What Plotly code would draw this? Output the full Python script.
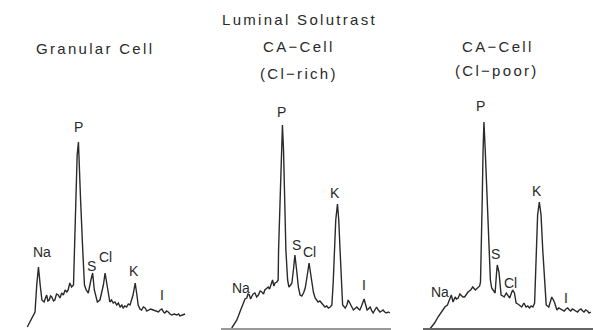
import plotly.graph_objects as go

# ---- spectrum data (energy keV, intensity a.u.) ----
granular_keV = [0.83, 0.93, 1.01, 1.05, 1.09, 1.13, 1.17, 1.22, 1.25, 1.28,
                1.31, 1.34, 1.37, 1.40, 1.44, 1.47, 1.51, 1.55, 1.59, 1.63,
                1.67, 1.71, 1.75, 1.78, 1.82, 1.86, 1.905, 1.93, 1.96, 1.99,
                2.02, 2.04, 2.07, 2.12, 2.16, 2.20, 2.25, 2.31, 2.35, 2.39,
                2.46, 2.52, 2.60, 2.64, 2.68, 2.71, 2.75, 2.79, 2.83, 2.87,
                2.91, 2.95, 2.99, 3.03, 3.06, 3.10, 3.14, 3.18, 3.22, 3.29,
                3.34, 3.38, 3.41, 3.45, 3.49, 3.53, 3.57, 3.61, 3.65, 3.70,
                3.76, 3.82, 3.88, 3.92, 3.96, 4.00, 4.03, 4.07, 4.11, 4.15,
                4.19, 4.25, 4.31, 4.35, 4.38, 4.44, 4.50]
granular_cnt = [3, 12, 18, 45, 63, 45, 30, 28, 33, 35,
                29, 30, 34, 33, 29, 30, 36, 35, 32, 37,
                35, 40, 38, 40, 47, 43, 45, 80, 130, 175,
                188, 170, 130, 80, 45, 40, 37, 50, 57, 40,
                28, 30, 45, 57, 45, 40, 28, 30, 27, 28,
                25, 27, 23, 25, 22, 24, 23, 26, 25, 35,
                47, 35, 25, 21, 20, 23, 22, 19, 20, 21,
                20, 19, 18, 20, 21, 18, 17, 19, 18, 16,
                15, 16, 15, 16, 14, 15, 16]

clrich_keV = [0.84, 0.96, 1.03, 1.11, 1.15, 1.19, 1.22, 1.25, 1.28, 1.30,
              1.34, 1.38, 1.42, 1.46, 1.50, 1.54, 1.58, 1.61, 1.65, 1.69,
              1.72, 1.75, 1.79, 1.82, 1.85, 1.89, 1.92, 1.93, 1.96, 1.99,
              2.02, 2.045, 2.08, 2.10, 2.14, 2.17, 2.21, 2.24, 2.28, 2.31,
              2.35, 2.39, 2.43, 2.47, 2.51, 2.55, 2.58, 2.61, 2.64, 2.67,
              2.70, 2.74, 2.78, 2.81, 2.85, 2.89, 2.93, 2.97, 3.01, 3.05,
              3.09, 3.13, 3.17, 3.20, 3.23, 3.26, 3.30, 3.33, 3.36, 3.38,
              3.42, 3.48, 3.52, 3.55, 3.58, 3.61, 3.67, 3.71, 3.75, 3.79,
              3.82, 3.86, 3.92, 3.95, 3.99, 4.02, 4.06, 4.10, 4.13, 4.17,
              4.21, 4.25, 4.29, 4.33, 4.36, 4.40, 4.44, 4.48, 4.52]
clrich_cnt = [2, 10, 18, 28, 31, 32, 36, 35, 31, 33,
              36, 37, 33, 35, 39, 38, 36, 40, 42, 43,
              41, 45, 50, 44, 47, 48, 50, 80, 130, 180,
              205, 180, 130, 80, 50, 43, 45, 47, 62, 75,
              60, 43, 35, 34, 37, 42, 50, 60, 67, 58,
              47, 38, 32, 30, 28, 29, 27, 25, 23, 24,
              22, 23, 25, 47, 80, 110, 126, 110, 80, 60,
              25, 22, 25, 30, 27, 25, 20, 22, 23, 21,
              20, 24, 31, 26, 20, 21, 23, 19, 17, 20,
              23, 20, 18, 19, 20, 18, 17, 18, 17]

clpoor_keV = [0.75, 0.86, 0.94, 1.02, 1.06, 1.10, 1.16, 1.21, 1.25, 1.29,
              1.34, 1.37, 1.41, 1.45, 1.48, 1.52, 1.56, 1.60, 1.64, 1.70,
              1.75, 1.81, 1.87, 1.91, 1.93, 1.94, 1.97, 1.99, 2.01, 2.04,
              2.09, 2.13, 2.16, 2.19, 2.22, 2.27, 2.30, 2.32, 2.36, 2.38,
              2.41, 2.45, 2.48, 2.53, 2.57, 2.61, 2.65, 2.68, 2.72, 2.76,
              2.80, 2.84, 2.89, 2.94, 2.99, 3.03, 3.07, 3.11, 3.15, 3.19,
              3.21, 3.23, 3.26, 3.30, 3.34, 3.38, 3.42, 3.46, 3.52, 3.56,
              3.59, 3.65, 3.71, 3.75, 3.79, 3.84, 3.88, 3.92, 3.96, 4.00,
              4.03, 4.07, 4.11, 4.15, 4.19, 4.23, 4.27, 4.31, 4.34, 4.38,
              4.42, 4.46, 4.50]
clpoor_cnt = [1, 7, 13, 18, 21, 23, 25, 30, 35, 28,
              33, 31, 32, 36, 35, 33, 33, 36, 38, 40,
              43, 40, 42, 44, 48, 80, 130, 180, 208, 180,
              130, 80, 50, 42, 40, 37, 55, 65, 58, 45,
              35, 34, 33, 37, 34, 32, 37, 40, 37, 27,
              26, 25, 23, 27, 23, 24, 22, 24, 23, 27,
              47, 80, 115, 128, 115, 80, 47, 25, 23, 28,
              33, 28, 20, 22, 21, 20, 19, 21, 22, 20,
              19, 21, 20, 19, 18, 20, 21, 19, 18, 20,
              19, 17, 18]

# peak labels: (text, energy, height)
granular_labels = [("Na", 1.17, 78), ("P", 2.03, 203), ("S", 2.33, 64),
                   ("Cl", 2.66, 73), ("K", 3.31, 59), ("I", 3.96, 35)]
clrich_labels = [("Na", 1.05, 42), ("P", 1.99, 218), ("S", 2.34, 85),
                 ("Cl", 2.66, 78), ("K", 3.24, 137), ("I", 3.92, 45)]
clpoor_labels = [("Na", 0.98, 38), ("P", 1.94, 224), ("S", 2.27, 76),
                 ("Cl", 2.64, 47), ("K", 3.24, 139), ("I", 3.91, 32)]

panels = [
    (granular_keV, granular_cnt, granular_labels),
    (clrich_keV, clrich_cnt, clrich_labels),
    (clpoor_keV, clpoor_cnt, clpoor_labels),
]

W, H = 593, 330
xdomains = [[17.4 / W, 187.2 / W], [221.4 / W, 391.2 / W], [423.4 / W, 1.0]]
xranges = [[0.6, 4.55], [0.6, 4.55], [0.6, 4.55]]
show_baseline = [False, True, True]
baseline_color = ["#888", "#999", "#666"]

FONT = "Liberation Sans, Arial, sans-serif"
fig = go.Figure()
annotations = []
layout = {}
for i, (ex, cy, labels) in enumerate(panels):
    n = "" if i == 0 else str(i + 1)
    fig.add_trace(go.Scatter(x=ex, y=cy, mode="lines",
                             line=dict(color="#2a2a2a", width=1.4),
                             xaxis="x" + n, yaxis="y" + n, showlegend=False,
                             hoverinfo="skip"))
    layout["xaxis" + n] = dict(domain=xdomains[i], range=xranges[i],
                               showgrid=False, zeroline=False, showticklabels=False,
                               ticks="", showline=show_baseline[i],
                               linecolor=baseline_color[i], linewidth=2,
                               anchor="free", position=0.004)
    layout["yaxis" + n] = dict(domain=[0, 1], range=[0, H], visible=False,
                               anchor="x" + n)
    for (t, ex_, hy) in labels:
        annotations.append(dict(text=t, x=ex_, y=hy, xref="x" + n, yref="y" + n,
                                showarrow=False, xanchor="center", yanchor="middle",
                                font=dict(family=FONT, size=14, color="#2a2a2a")))

titles = [("Luminal Solutrast", 299, 19), ("Granular Cell", 95, 48),
          ("CA\u2212Cell", 299, 46), ("(Cl\u2212rich)", 299, 73),
          ("CA\u2212Cell", 498, 46), ("(Cl\u2212poor)", 497, 71)]
for (t, px, py) in titles:
    annotations.append(dict(text='<span style="letter-spacing:2.3px">' + t + '</span>',
                            x=px / W, y=1 - py / H, xref="paper", yref="paper",
                            showarrow=False, xanchor="center", yanchor="middle",
                            font=dict(family=FONT, size=15, color="#2a2a2a")))

fig.update_layout(width=W, height=H, margin=dict(l=0, r=0, t=0, b=0),
                  paper_bgcolor="white", plot_bgcolor="rgba(0,0,0,0)",
                  annotations=annotations, **layout)
fig.write_html("out.html")
